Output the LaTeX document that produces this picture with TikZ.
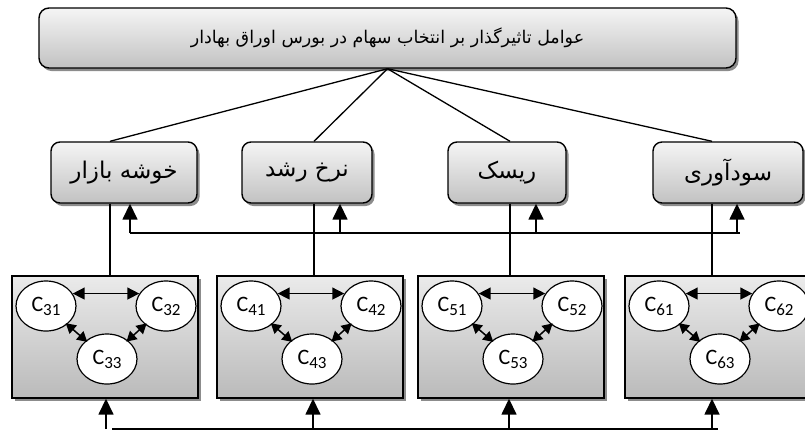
\documentclass[tikz,border=0pt]{standalone}
\usepackage{fontspec}
\setmainfont{Carlito}
\newfontfamily\arabicfont[Script=Arabic]{DejaVu Sans}
\TeXXeTstate=1
\usetikzlibrary{arrows.meta,shadows,shapes.geometric}
\newcommand\cname[1]{C\raisebox{-4pt}{\fontsize{17}{17}\selectfont #1}}
\newcommand\fa[1]{\arabicfont\beginR #1\endR}
\begin{document}
\begin{tikzpicture}[x=1pt,y=-1pt,
  shad/.style={drop shadow={shadow xshift=2.5pt,shadow yshift=-3pt,fill=black,opacity=0.45}},
  topbox/.style={draw,line width=1.4pt,rounded corners=10pt,top color=black!4,bottom color=black!24,shad,minimum width=697pt,minimum height=60pt,inner sep=0pt,font=\fontsize{17.5}{17.5}\selectfont},
  midbox/.style={draw,line width=1.4pt,rounded corners=9pt,top color=black!4,bottom color=black!24,shad,minimum height=61pt,inner sep=0pt,font=\fontsize{23}{23}\selectfont},
  botbox/.style={draw,line width=1.4pt,top color=black!8,bottom color=black!27,shad,minimum width=186pt,minimum height=122pt,inner sep=0pt},
  cell/.style={ellipse,draw,line width=1.2pt,fill=white,minimum width=60pt,minimum height=50pt,inner sep=0pt,font=\fontsize{22}{22}\selectfont},
  link/.style={line width=1.1pt},
  bus/.style={line width=1.6pt},
  uparrow/.style={line width=1.6pt,-{Triangle[length=16pt,width=15pt]}},
  dbl/.style={line width=1.5pt,{Triangle[length=12pt,width=12pt]}-{Triangle[length=12pt,width=12pt]}},
  dbls/.style={line width=1.5pt,shorten <=-2pt,shorten >=-2pt,{Triangle[length=10pt,width=11pt]}-{Triangle[length=10pt,width=11pt]}}
]
\useasboundingbox (0,0) rectangle (805,432);

% top box
\node[topbox] (top) at (387.5,38) {\fa{عوامل تاثیرگذار بر انتخاب سهام در بورس اوراق بهادار}};

% middle boxes
\node[midbox,minimum width=146pt] (mA) at (124,172.5) {\raisebox{3pt}{\fa{خوشه بازار}}};
\node[midbox,minimum width=130pt] (mB) at (307,172.5) {\raisebox{3pt}{\fa{نرخ رشد}}};
\node[midbox,minimum width=118pt] (mC) at (507,172.5) {\raisebox{3pt}{\fa{ریسک}}};
\node[midbox,minimum width=150pt] (mD) at (728,172.5) {\raisebox{3pt}{\fa{سودآوری}}};

% bottom boxes
\node[botbox] (bA) at (105,337) {};
\node[botbox] (bB) at (310,337) {};
\node[botbox] (bC) at (511,337) {};
\node[botbox] (bD) at (718,337) {};

% column coordinates
\coordinate (xA) at (110,0);
\coordinate (xB) at (314,0);
\coordinate (xC) at (510,0);
\coordinate (xD) at (712,0);

% lines from the title box and links down to the bottom boxes
\foreach \m/\x/\b in {mA/xA/bA,mB/xB/bB,mC/xC/bC,mD/xD/bD}{
  \draw[link,line width=1.3pt] (top.south) -- (\m.north -| \x);
  \draw[link] (\x |- \m.south) -- (\x |- \b.north);
}

% middle bus with arrows
\coordinate (aA) at (130,233);
\coordinate (aB) at (340,233);
\coordinate (aC) at (536,233);
\coordinate (aD) at (737,233);
\coordinate (aE) at (740,233);
\draw[bus] (aA) -- (aE);
\draw[uparrow] (aA) -- (aA |- mA.south);
\draw[uparrow] (aB) -- (aB |- mB.south);
\draw[uparrow] (aC) -- (aC |- mC.south);
\draw[uparrow] (aD) -- (aD |- mD.south);

% bottom bus with arrows
\coordinate (pA) at (106,429);
\coordinate (pB) at (313,429);
\coordinate (pC) at (509,429);
\coordinate (pD) at (712,429);
\coordinate (p0) at (112,429);
\coordinate (pE) at (718,429);
\draw[bus] (p0) -- (pE);
\draw[uparrow] (pA) -- (pA |- bA.south);
\draw[uparrow] (pB) -- (pB |- bB.south);
\draw[uparrow] (pC) -- (pC |- bC.south);
\draw[uparrow] (pD) -- (pD |- bD.south);

% ellipses in each bottom box
\foreach \b/\L/\n in {bA/12/3,bB/217/4,bC/418/5,bD/625/6}{
  \node[cell] (\b1) at (\L+34,306) {\cname{\n1}};
  \node[cell] (\b2) at (\L+154,306) {\cname{\n2}};
  \node[cell] (\b3) at (\L+95,359) {\cname{\n3}};
  \draw[dbl] (\b1.25) -- (\b2.155);
  \draw[dbls] (\b1) -- (\b3);
  \draw[dbls] (\b2) -- (\b3);
}
\end{tikzpicture}
\end{document}
